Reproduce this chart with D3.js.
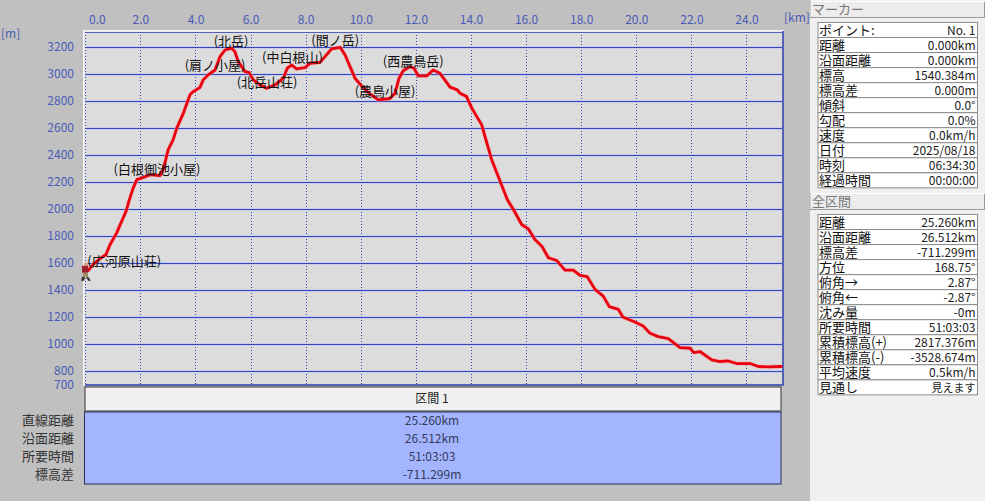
<!DOCTYPE html>
<html lang="ja">
<head>
<meta charset="utf-8">
<script src="https://cdn.jsdelivr.net/npm/d3@7"></script>
<style>
html,body{margin:0;padding:0;background:#c0c0c0;overflow:hidden}
svg{display:block}
text{font-family:"Noto Sans CJK JP","Noto Sans",sans-serif}
</style>
</head>
<body>
<svg id="c" width="985" height="501"></svg>
<script>
// ---- data ----
const distanceKm = [0.10,0.28,0.53,0.75,0.90,1.14,1.32,1.48,1.60,1.74,1.87,2.11,2.35,2.71,2.83,3.01,3.19,3.32,3.56,3.80,3.92,4.16,4.28,4.46,4.71,4.89,5.07,5.31,5.43,5.55,5.80,5.95,6.10,6.34,6.58,6.89,7.19,7.33,7.49,7.67,7.97,8.16,8.52,8.70,8.94,9.25,9.43,9.61,9.79,10.03,10.33,10.64,11.06,11.24,11.39,11.54,11.79,11.93,12.09,12.39,12.63,12.87,13.24,13.50,13.60,13.84,14.03,14.39,14.54,14.75,14.99,15.32,15.54,15.84,16.08,16.32,16.57,16.81,17.11,17.41,17.71,17.96,18.22,18.50,18.80,19.02,19.35,19.51,19.95,20.25,20.50,20.80,21.16,21.59,21.95,22.09,22.31,22.74,23.04,23.34,23.64,24.13,24.43,24.79,25.26];
const elevationM = [1540,1586,1629,1660,1734,1820,1906,1980,2066,2153,2214,2231,2251,2244,2288,2436,2510,2596,2707,2842,2866,2896,2953,2990,3026,3125,3174,3187,3162,3088,3014,3007,2953,2916,2891,2916,2965,3039,3063,3034,3043,3076,3083,3125,3182,3194,3137,3051,2965,2908,2849,2805,2815,2854,2965,3021,3051,3039,2982,2982,3026,3002,2899,2879,2854,2829,2744,2620,2510,2362,2238,2066,1993,1882,1850,1771,1722,1636,1616,1544,1544,1505,1496,1402,1352,1274,1254,1197,1160,1131,1077,1052,1038,971,966,934,942,880,868,872,853,853,831,828,831];
const xTicks = [0,2,4,6,8,10,12,14,16,18,20,22,24];
const yTicks = [800,1000,1200,1400,1600,1800,2000,2200,2400,2600,2800,3000,3200];
const yEdgeTick = [700];
const wpNames = ["(広河原山荘)","(白根御池小屋)","(肩ノ小屋)","(北岳)","(北岳山荘)","(中白根山)","(間ノ岳)","(農鳥小屋)","(西農鳥岳)"];
const wpKm = [1.41,2.60,4.71,5.29,6.60,7.52,9.07,10.88,11.90];
const wpM = [1600,2285,3055,3230,2925,3110,3240,2860,3080];
const markerLabels = ["ポイント:","距離","沿面距離","標高","標高差","傾斜","勾配","速度","日付","時刻","経過時間"];
const markerValues = ["No. 1","0.000km","0.000km","1540.384m","0.000m","0.0°","0.0%","0.0km/h","2025/08/18","06:34:30","00:00:00"];
const totalLabels = ["距離","沿面距離","標高差","方位","俯角→","俯角←","沈み量","所要時間","累積標高(+)","累積標高(-)","平均速度","見通し"];
const totalValues = ["25.260km","26.512km","-711.299m","168.75°","2.87°","-2.87°","-0m","51:03:03","2817.376m","-3528.674m","0.5km/h","見えます"];
const sectionTitle = "区間 1";
const sectionLabels = ["直線距離","沿面距離","所要時間","標高差"];
const sectionValues = ["25.260km","26.512km","51:03:03","-711.299m"];

// ---- layout ----
const svg = d3.select("#c");
const BLUE = "#3347b8", LABEL = "#4a5cb8";
const x = d3.scaleLinear().domain([0,25.26]).range([85.3,781.2]);
const y = d3.scaleLinear().domain([700,3200]).range([384.2,46.5]);

svg.append("rect").attr("width",985).attr("height",501).attr("fill","#c0c0c0");
svg.append("rect").attr("x",810).attr("width",175).attr("height",501).attr("fill","#f0f0f0");

// plot frame
svg.append("rect").attr("x",83).attr("y",30).attr("width",701).attr("height",356).attr("fill","#f4f4f4");
svg.append("rect").attr("x",84.5).attr("y",31.5).attr("width",698).attr("height",353).attr("fill","#dcdcdc");

// grid
const gH = svg.append("g");
gH.selectAll("line").data(yTicks).join("line")
  .attr("x1",85).attr("x2",782).attr("y1",d=>Math.round(y(d))+.5).attr("y2",d=>Math.round(y(d))+.5)
  .attr("stroke","#c9cdea").attr("stroke-width",3);
const gY = svg.append("g");
gY.selectAll("line").data(yTicks).join("line")
  .attr("x1",85).attr("x2",782).attr("y1",d=>Math.round(y(d))+.5).attr("y2",d=>Math.round(y(d))+.5)
  .attr("stroke",BLUE).attr("stroke-width",1).attr("shape-rendering","crispEdges");
const gX = svg.append("g");
gX.selectAll("line").data(xTicks).join("line")
  .attr("x1",d=>Math.round(x(d))+.5).attr("x2",d=>Math.round(x(d))+.5).attr("y1",32).attr("y2",384)
  .attr("stroke",BLUE).attr("stroke-width",1).attr("stroke-dasharray","1 2");

// frame edges
svg.append("path").attr("d","M85,32.5H782").attr("stroke","#5560b8").attr("stroke-width",1).attr("fill","none");
svg.append("path").attr("d","M85,385H784M783,31V386").attr("stroke","#5560b8").attr("stroke-width",2).attr("fill","none");

// axes
const axTop = svg.append("g").attr("transform","translate(0,24)")
  .call(d3.axisTop(x).tickValues(xTicks).tickFormat(d3.format(".1f")).tickSize(0).tickPadding(0));
axTop.select(".domain").remove();
axTop.selectAll("text").attr("fill",LABEL).style("font-size","12px").attr("dx",d=>d===0?11.5:0);
const axLeft = svg.append("g").attr("transform","translate(74,0)")
  .call(d3.axisLeft(y).tickValues(yTicks.concat(yEdgeTick)).tickFormat(d3.format("d")).tickSize(0).tickPadding(0));
axLeft.select(".domain").remove();
axLeft.selectAll("text").attr("fill",LABEL).style("font-size","12px");
svg.append("text").attr("x",1).attr("y",38).attr("fill",LABEL).style("font-size","12px").text("[m]");
svg.append("text").attr("x",784).attr("y",22).attr("fill",LABEL).style("font-size","12px").text("[km]");

// profile
const line = d3.line().x((d,i)=>x(distanceKm[i])).y(d=>y(d));
svg.append("path").datum(elevationM).attr("d",line).attr("fill","none")
  .attr("stroke","#ff9a9a").attr("stroke-opacity",.4).attr("stroke-width",4.5).attr("stroke-linejoin","round");
svg.append("path").datum(elevationM).attr("d",line).attr("fill","none")
  .attr("stroke","#e8000f").attr("stroke-width",2.8).attr("stroke-linejoin","round").attr("stroke-linecap","round");

// hiker marker at first point
const hx = x(distanceKm[0])-3, hy = y(elevationM[0]);
const hiker = svg.append("g").attr("transform",`translate(${hx},${hy})`);
hiker.append("rect").attr("x",-1).attr("y",-8).attr("width",4).attr("height",3).attr("fill","#d9a27a");
hiker.append("rect").attr("x",-3).attr("y",-5).attr("width",6).attr("height",7).attr("fill","#9c1f2e");
hiker.append("rect").attr("x",-2).attr("y",2).attr("width",5).attr("height",4).attr("fill","#a08a60");
hiker.append("path").attr("d","M-3,6L-4,10H-1L0,6ZM1,6L3,10H6L3,6Z").attr("fill","#3a3224");

// waypoint labels
svg.append("g").selectAll("text").data(wpNames).join("text")
  .attr("x",(d,i)=>x(wpKm[i])).attr("y",(d,i)=>y(wpM[i])).attr("text-anchor","middle")
  .attr("dominant-baseline","middle").attr("fill","#111").style("font-size","13px").text(d=>d);

// side tables
function header(title, top){
  svg.append("rect").attr("x",810.5).attr("y",top+.5).attr("width",174).attr("height",16)
    .attr("fill","#ececec").attr("stroke","#999");
  svg.append("path").attr("d",`M811,${top+.5}H985M811,${top+.5}V${top+16}`).attr("stroke","#fff").attr("fill","none");
  svg.append("text").attr("x",812).attr("y",top+13).attr("fill","#777").style("font-size","13px").text(title);
}
function table(labels, values, top){
  const rh = d3.scaleBand().domain(d3.range(labels.length)).range([top, top+labels.length*15.03]);
  const g = svg.append("g");
  const row = g.selectAll("g").data(labels).join("g").attr("transform",(d,i)=>`translate(0,${rh(i)})`);
  row.append("rect").attr("x",818).attr("width",159.5).attr("height",rh.bandwidth()).attr("fill","#fff").attr("stroke","#8a8a8a");
  row.append("text").attr("x",819).attr("y",12).attr("fill","#111").style("font-size","13px").text(d=>d);
  row.append("text").attr("x",975.5).attr("y",12).attr("text-anchor","end").attr("fill","#222")
    .style("font-size",(d,i)=>/[ぁ-ん]/.test(values[i])?"11px":"12px").text((d,i)=>values[i]);
}
header("マーカー",1);
table(markerLabels,markerValues,22.5);
header("全区間",193);
table(totalLabels,totalValues,214.5);

// section panel
svg.append("rect").attr("x",85).attr("y",387).attr("width",696).attr("height",24).attr("fill","#f0f0f0").attr("stroke","#333");
svg.append("path").attr("d","M86,411H781").attr("stroke","#888");
svg.append("text").attr("x",432).attr("y",403).attr("text-anchor","middle").attr("fill","#222").style("font-size","12px").text(sectionTitle);
svg.append("rect").attr("x",84.5).attr("y",412).attr("width",696.5).attr("height",72).attr("fill","#a3b5ff").attr("stroke","#2a3050");
const rowY = d3.scalePoint().domain(d3.range(sectionLabels.length)).range([425,479]);
svg.append("g").selectAll("text").data(sectionLabels).join("text")
  .attr("x",74).attr("y",(d,i)=>rowY(i)).attr("text-anchor","end").attr("fill","#333").style("font-size","13px").text(d=>d);
svg.append("g").selectAll("text").data(sectionValues).join("text")
  .attr("x",432).attr("y",(d,i)=>rowY(i)).attr("text-anchor","middle").attr("fill","#333a5a").style("font-size","12px").text(d=>d);
</script>
</body>
</html>
